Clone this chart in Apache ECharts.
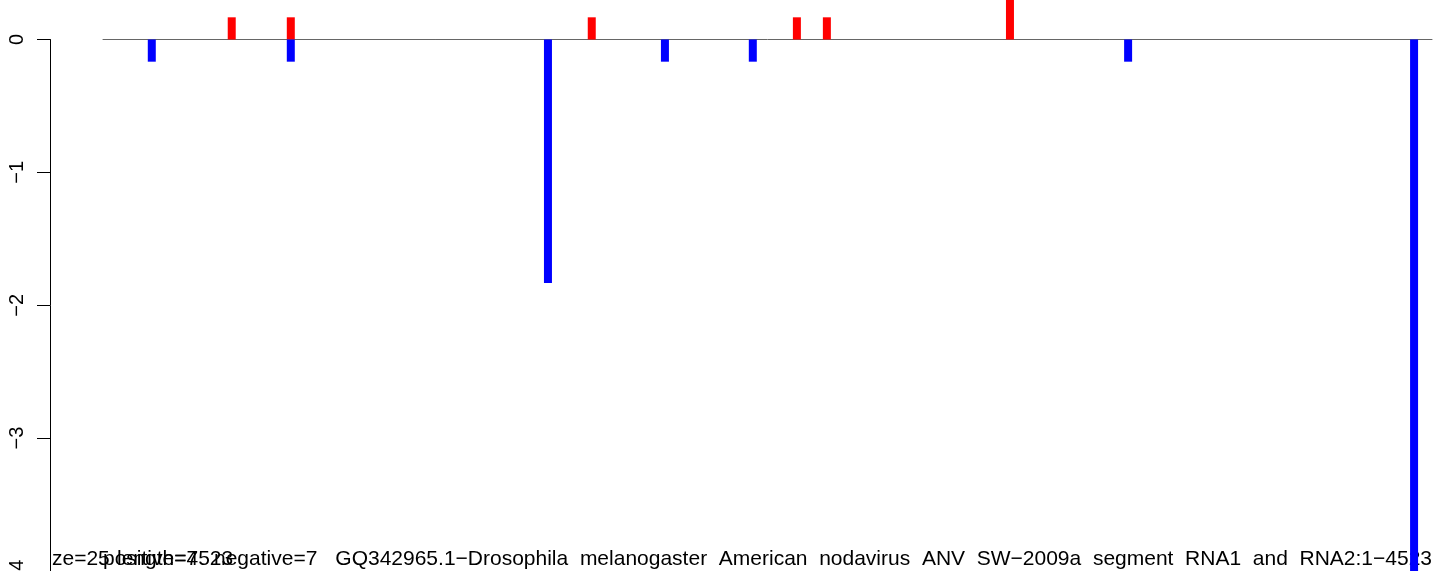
<!DOCTYPE html>
<html>
<head>
<meta charset="utf-8">
<script src="https://cdn.jsdelivr.net/npm/echarts@6/dist/echarts.min.js"></script>
<style>
html,body{margin:0;padding:0;background:#fff;}
#c{width:1444px;height:571px;}
</style>
</head>
<body>
<div id="c"></div>
<script>
// positions along the sequence (1..4523) and normalised read values
const seqLength = 4523;
const redPositions = [439, 640, 1664, 2362, 2464, 3087];
const redValues = [0.167, 0.167, 0.167, 0.167, 0.167, 0.333];
const bluePositions = [167, 640, 1515, 1913, 2212, 3489, 4462];
const blueValues = [-0.167, -0.167, -1.833, -0.167, -0.167, -0.167, -4.5];
const yTicks = [0, -1, -2, -3, -4];
const yTickLabels = ['0', '\u22121', '\u22122', '\u22123', '\u22124'];
const footerTexts = ['ze=25', 'positive=7', 'length=4523', 'negative=7'];
const titleText = 'GQ342965.1\u2212Drosophila  melanogaster  American  nodavirus  ANV  SW\u22122009a  segment  RNA1  and  RNA2:1\u22124523';

const FONT = '"Liberation Sans", Arial, Helvetica, sans-serif';
const data = [];
redPositions.forEach((p, i) => data.push({ value: [p, redValues[i]], itemStyle: { color: '#ff0000' } }));
bluePositions.forEach((p, i) => data.push({ value: [p, blueValues[i]], itemStyle: { color: '#0000ff' } }));

const chart = echarts.init(document.getElementById('c'), null, { renderer: 'canvas' });
const footerX = [52, 103, 117, 214];
chart.setOption({
  animation: false,
  backgroundColor: '#ffffff',
  grid: { left: 103, right: 12, top: 39.5, bottom: 0, containLabel: false, outerBoundsMode: 'none' },
  xAxis: {
    type: 'value', min: 1, max: seqLength,
    axisLine: { show: true, onZero: true, lineStyle: { color: '#666666', width: 1 } },
    axisTick: { show: false }, axisLabel: { show: false }, splitLine: { show: false }
  },
  yAxis: {
    type: 'value', min: -4, max: 0, interval: 1, offset: 53,
    axisLine: { show: true, lineStyle: { color: '#000', width: 1 } },
    axisTick: { show: true, length: 13, inside: false, lineStyle: { color: '#000', width: 1 } },
    axisLabel: {
      show: true, rotate: 90, margin: 23, color: '#000', fontSize: 20, fontFamily: FONT,
      formatter: v => { const i = yTicks.indexOf(v); return i >= 0 ? yTickLabels[i] : ''; }
    },
    splitLine: { show: false }
  },
  series: [{
    type: 'bar', data: data, barWidth: 8, clip: false, z: 5
  }],
  graphic: footerTexts.map((t, i) => ({
    type: 'text', left: footerX[i], top: 549, z: 0,
    style: { text: t, font: '21px ' + FONT, fill: '#000' }
  })).concat([{
    type: 'text', right: 12, top: 549, z: 0,
    style: { text: titleText, font: '21px ' + FONT, fill: '#000' }
  }])
});
</script>
</body>
</html>
